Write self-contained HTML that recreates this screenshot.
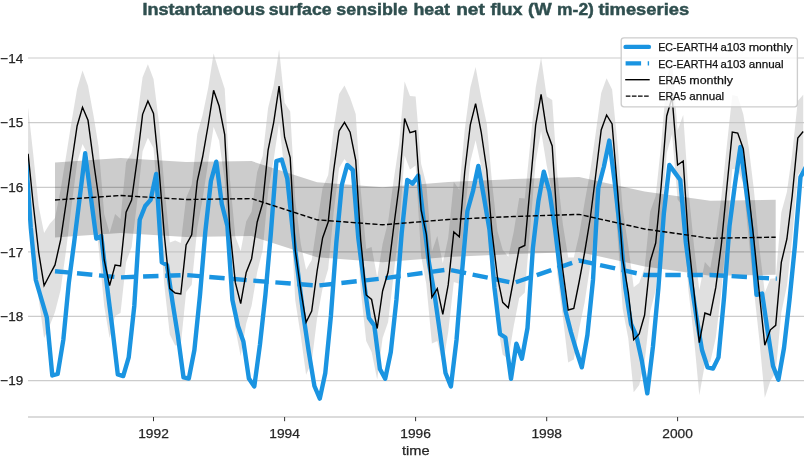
<!DOCTYPE html>
<html><head><meta charset="utf-8"><title>timeseries</title>
<style>
html,body{margin:0;padding:0;background:#fff;}
body{width:804px;height:457px;overflow:hidden;font-family:"Liberation Sans",sans-serif;}
svg{display:block;will-change:transform;}
text{font-family:"Liberation Sans",sans-serif;}
</style></head><body>
<svg width="804" height="457" viewBox="0 0 804 457">
<rect width="804" height="457" fill="#ffffff"/>
<defs><clipPath id="c"><rect x="28" y="40" width="776" height="377"/></clipPath></defs>
<g stroke="#cccccc" stroke-width="1.2"><line x1="28" x2="804" y1="58.0" y2="58.0"/><line x1="28" x2="804" y1="122.7" y2="122.7"/><line x1="28" x2="804" y1="187.4" y2="187.4"/><line x1="28" x2="804" y1="251.8" y2="251.8"/><line x1="28" x2="804" y1="316.3" y2="316.3"/><line x1="28" x2="804" y1="380.7" y2="380.7"/></g>
<g clip-path="url(#c)">
<polygon points="28.1,107.7 33.1,153.0 38.7,206.5 44.1,233.1 49.6,224.0 55.0,217.9 60.6,190.0 66.1,156.0 71.5,122.0 77.1,89.0 82.5,70.6 88.0,85.8 93.6,116.0 98.6,147.0 104.2,214.0 109.6,233.1 115.1,214.0 120.5,219.0 126.1,162.3 131.6,153.0 137.0,119.0 142.6,77.3 147.9,64.3 153.5,79.0 159.1,124.0 164.3,185.0 169.8,242.6 175.2,240.5 180.8,243.0 186.1,198.0 191.7,184.8 197.3,134.0 202.6,115.0 208.2,88.0 213.6,53.6 219.1,71.5 224.7,88.7 229.7,177.0 235.3,236.4 240.7,251.1 246.2,221.4 251.6,211.7 257.2,172.0 262.7,156.0 268.1,108.0 273.7,85.3 279.1,49.4 284.6,102.7 290.2,111.5 295.2,200.0 300.8,244.0 306.1,269.8 311.7,260.0 317.1,224.0 322.6,188.0 328.2,175.0 333.6,129.0 339.1,94.0 344.5,85.6 350.1,97.7 355.7,114.0 360.7,190.0 366.2,249.0 371.6,247.0 377.2,277.5 382.6,244.0 388.1,222.0 393.7,180.0 399.1,144.0 404.6,81.5 410.0,96.0 415.6,96.5 421.1,163.8 426.3,184.0 431.9,251.4 437.3,236.1 442.8,263.3 448.2,237.9 453.8,182.0 459.3,189.8 464.7,130.0 470.3,87.8 475.6,66.9 481.2,97.5 486.8,124.0 491.8,180.0 497.4,231.0 502.7,249.8 508.3,256.8 513.7,232.0 519.2,198.0 524.8,198.5 530.2,144.0 535.7,87.8 541.1,57.6 546.7,96.5 552.2,100.0 557.3,174.0 562.8,224.0 568.2,257.5 573.8,257.5 579.1,235.0 584.7,202.0 590.3,171.0 595.6,134.0 601.2,93.0 606.6,78.3 612.1,89.5 617.7,146.0 622.7,209.0 628.3,246.5 633.7,287.3 639.2,283.0 644.6,268.0 650.2,211.5 655.7,196.0 661.1,145.0 666.7,79.0 672.1,60.6 677.6,130.5 683.2,115.0 688.4,190.0 693.9,245.0 699.3,290.2 704.9,262.0 710.3,268.0 715.8,237.4 721.4,197.0 726.8,146.0 732.3,95.0 737.7,96.3 743.3,114.2 748.8,148.0 753.9,190.0 759.4,248.0 764.8,292.7 770.4,278.8 775.7,278.3 781.3,212.4 786.9,192.0 792.2,154.0 797.8,101.0 803.2,94.8 803.2,168.2 797.8,175.0 792.2,238.0 786.9,286.0 781.3,312.4 775.7,372.3 770.4,380.8 764.8,397.7 759.4,340.0 753.9,290.0 748.8,240.0 743.3,183.2 737.7,169.7 732.3,169.0 726.8,230.0 721.4,291.0 715.8,337.4 710.3,362.0 704.9,364.0 699.3,395.2 693.9,337.0 688.4,290.0 683.2,207.0 677.6,199.5 672.1,134.0 666.7,153.0 661.1,229.0 655.7,290.0 650.2,311.5 644.6,362.0 639.2,385.0 633.7,392.3 628.3,338.5 622.7,309.0 617.7,238.0 612.1,158.5 606.6,151.7 601.2,167.0 595.6,218.0 590.3,265.0 584.7,302.0 579.1,329.0 573.8,359.5 568.2,362.5 562.8,316.0 557.3,274.0 552.2,192.0 546.7,165.5 541.1,131.0 535.7,161.8 530.2,228.0 524.8,292.5 519.2,298.0 513.7,326.0 508.3,358.8 502.7,354.8 497.4,323.0 491.8,280.0 486.8,216.0 481.2,166.5 475.6,140.3 470.3,161.8 464.7,214.0 459.3,283.8 453.8,282.0 448.2,331.9 442.8,365.3 437.3,341.1 431.9,343.4 426.3,284.0 421.1,255.8 415.6,165.5 410.0,169.4 404.6,155.5 399.1,228.0 393.7,274.0 388.1,322.0 382.6,338.0 377.2,379.5 371.6,352.0 366.2,341.0 360.7,290.0 355.7,206.0 350.1,166.7 344.5,159.0 339.1,168.0 333.6,213.0 328.2,269.0 322.6,288.0 317.1,318.0 311.7,362.0 306.1,374.8 300.8,336.0 295.2,300.0 290.2,203.5 284.6,171.7 279.1,122.8 273.7,159.3 268.1,192.0 262.7,250.0 257.2,272.0 251.6,305.7 246.2,323.4 240.7,356.1 235.3,328.4 229.7,277.0 224.7,180.7 219.1,140.5 213.6,127.0 208.2,162.0 202.6,199.0 197.3,228.0 191.7,284.8 186.1,292.0 180.8,345.0 175.2,345.5 169.8,334.6 164.3,285.0 159.1,216.0 153.5,148.0 147.9,137.7 142.6,151.3 137.0,203.0 131.6,247.0 126.1,262.3 120.5,313.0 115.1,316.0 109.6,338.1 104.2,306.0 98.6,247.0 93.6,208.0 88.0,154.8 82.5,144.0 77.1,163.0 71.5,206.0 66.1,250.0 60.6,290.0 55.0,311.9 49.6,326.0 44.1,338.1 38.7,298.5 33.1,253.0 28.1,199.7" fill="#c1c1c1" fill-opacity="0.5"/>
<polygon points="55.0,162.5 120.5,158.0 186.1,162.0 251.6,161.1 317.1,182.3 382.6,187.3 448.2,182.0 513.7,179.0 579.1,176.9 644.6,191.5 710.3,200.8 775.7,199.7 775.7,274.7 710.3,275.8 644.6,266.5 579.1,251.9 513.7,254.0 448.2,257.0 382.6,262.3 317.1,257.3 251.6,236.1 186.1,237.0 120.5,233.0 55.0,237.5" fill="#000000" fill-opacity="0.2"/>
<polyline points="25.3,148.0 30.8,228.0 35.8,280.0 41.4,299.0 46.8,317.3 52.3,375.5 57.7,374.0 63.3,340.0 68.8,283.0 74.2,242.0 79.8,197.0 85.2,153.2 90.7,196.0 96.3,238.5 101.3,236.0 106.9,285.0 112.2,327.0 117.8,374.4 123.2,376.1 128.7,357.4 134.3,306.0 139.7,219.8 145.2,206.0 150.6,199.9 156.2,174.0 161.8,262.4 167.0,265.0 172.5,302.0 177.9,336.0 183.5,377.4 188.8,378.6 194.4,350.0 200.0,295.0 205.3,232.0 210.9,181.0 216.3,161.7 221.8,204.0 227.4,226.0 232.4,300.0 238.0,326.0 243.4,341.5 248.9,378.6 254.3,386.5 259.9,345.0 265.4,295.0 270.8,234.0 276.4,161.2 281.7,159.5 287.3,178.7 292.9,232.0 297.9,272.0 303.5,316.0 308.8,352.0 314.4,386.0 319.8,398.6 325.3,373.0 330.9,316.0 336.3,243.0 341.8,185.0 347.2,165.0 352.8,170.0 358.3,238.0 363.4,278.0 368.9,318.0 374.3,325.5 379.9,369.0 385.2,378.8 390.8,352.0 396.4,300.0 401.7,233.0 407.3,180.0 412.7,183.6 418.3,175.5 423.8,222.0 429.0,263.0 434.6,295.0 440.0,333.0 445.5,373.0 450.9,386.4 456.5,340.0 462.0,272.0 467.4,211.0 473.0,191.0 478.3,166.0 483.9,197.0 489.5,230.0 494.5,288.0 500.0,334.0 505.4,337.5 511.0,378.8 516.4,343.7 521.9,358.7 527.5,328.0 532.9,248.0 538.4,201.0 543.8,171.7 549.4,191.5 554.9,228.0 560.0,270.0 565.5,311.0 570.9,332.0 576.5,351.0 581.8,367.3 587.4,335.0 593.0,280.0 598.3,188.0 603.9,166.5 609.3,140.6 614.8,183.0 620.4,233.0 625.4,288.0 631.0,324.0 636.4,336.0 641.9,361.0 647.3,393.4 652.9,347.0 658.4,288.0 663.8,214.0 669.4,165.0 674.7,172.4 680.3,180.0 685.9,243.0 691.1,282.0 696.6,318.0 702.0,350.0 707.6,367.4 713.0,368.6 718.5,357.4 724.1,297.0 729.5,226.0 735.0,184.0 740.4,146.9 746.0,189.0 751.5,230.0 756.5,294.9 762.1,293.6 767.5,330.0 773.0,366.0 778.4,379.8 784.0,348.0 789.5,300.0 794.9,246.0 800.5,177.0 805.9,167.0" fill="none" stroke="#1a94e1" stroke-width="4.4" stroke-linejoin="round" stroke-linecap="butt"/>
<polyline points="55.0,271.2 120.5,277.4 186.1,275.0 251.6,280.5 317.1,285.6 382.6,278.5 448.2,269.5 513.7,283.0 579.1,260.5 644.6,275.0 710.3,275.0 775.7,278.6 776.8,278.6" fill="none" stroke="#1a94e1" stroke-width="4.4" stroke-dasharray="15.4,6.7"/>
<polyline points="28.1,153.7 33.1,203.0 38.7,252.5 44.1,285.6 49.6,275.0 55.0,264.9 60.6,240.0 66.1,203.0 71.5,164.0 77.1,126.0 82.5,107.3 88.0,120.3 93.6,162.0 98.6,197.0 104.2,260.0 109.6,285.6 115.1,265.0 120.5,266.0 126.1,212.3 131.6,200.0 137.0,161.0 142.6,114.3 147.9,101.0 153.5,113.5 159.1,170.0 164.3,235.0 169.8,288.6 175.2,293.0 180.8,294.0 186.1,245.0 191.7,234.8 197.3,181.0 202.6,157.0 208.2,125.0 213.6,90.3 219.1,106.0 224.7,134.7 229.7,227.0 235.3,282.4 240.7,303.6 246.2,272.4 251.6,258.7 257.2,222.0 262.7,203.0 268.1,150.0 273.7,122.3 279.1,86.1 284.6,137.2 290.2,157.5 295.2,250.0 300.8,290.0 306.1,322.3 311.7,311.0 317.1,271.0 322.6,238.0 328.2,222.0 333.6,171.0 339.1,131.0 344.5,122.3 350.1,132.2 355.7,160.0 360.7,240.0 366.2,295.0 371.6,299.5 377.2,328.5 382.6,291.0 388.1,272.0 393.7,227.0 399.1,186.0 404.6,118.5 410.0,132.7 415.6,131.0 421.1,209.8 426.3,234.0 431.9,297.4 437.3,288.6 442.8,314.3 448.2,284.9 453.8,232.0 459.3,236.8 464.7,172.0 470.3,124.8 475.6,103.6 481.2,132.0 486.8,170.0 491.8,230.0 497.4,277.0 502.7,302.3 508.3,307.8 513.7,279.0 519.2,248.0 524.8,245.5 530.2,186.0 535.7,124.8 541.1,94.3 546.7,131.0 552.2,146.0 557.3,224.0 562.8,270.0 568.2,310.0 573.8,308.5 579.1,282.0 584.7,252.0 590.3,218.0 595.6,176.0 601.2,130.0 606.6,115.0 612.1,124.0 617.7,192.0 622.7,259.0 628.3,292.5 633.7,339.8 639.2,334.0 644.6,315.0 650.2,261.5 655.7,243.0 661.1,187.0 666.7,116.0 672.1,97.3 677.6,165.0 683.2,161.0 688.4,240.0 693.9,291.0 699.3,342.7 704.9,313.0 710.3,315.0 715.8,287.4 721.4,244.0 726.8,188.0 732.3,132.0 737.7,133.0 743.3,148.7 748.8,194.0 753.9,240.0 759.4,294.0 764.8,345.2 770.4,329.8 775.7,325.3 781.3,262.4 786.9,239.0 792.2,196.0 797.8,138.0 803.2,131.5" fill="none" stroke="#000" stroke-width="1.4" stroke-linejoin="miter"/>
<polyline points="55.0,200.0 120.5,195.5 186.1,199.5 251.6,198.6 317.1,219.8 382.6,224.8 448.2,219.5 513.7,216.5 579.1,214.4 644.6,229.0 710.3,238.3 775.7,237.2" fill="none" stroke="#000" stroke-width="1.4" stroke-dasharray="5.1,2.2"/>
</g>
<line x1="28" x2="804" y1="417" y2="417" stroke="#cfcfcf" stroke-width="1.3"/>
<g stroke="#333" stroke-width="1"><line x1="153.5" x2="153.5" y1="417" y2="421.2"/><line x1="284.6" x2="284.6" y1="417" y2="421.2"/><line x1="415.6" x2="415.6" y1="417" y2="421.2"/><line x1="546.7" x2="546.7" y1="417" y2="421.2"/><line x1="677.6" x2="677.6" y1="417" y2="421.2"/></g>
<g font-size="13" fill="#262626" stroke="#262626" stroke-width="0.25"><text x="0.3" y="62.7" textLength="22.9" lengthAdjust="spacingAndGlyphs">−14</text><text x="0.3" y="127.4" textLength="22.9" lengthAdjust="spacingAndGlyphs">−15</text><text x="0.3" y="192.1" textLength="22.9" lengthAdjust="spacingAndGlyphs">−16</text><text x="0.3" y="256.5" textLength="22.9" lengthAdjust="spacingAndGlyphs">−17</text><text x="0.3" y="321.0" textLength="22.9" lengthAdjust="spacingAndGlyphs">−18</text><text x="0.3" y="385.4" textLength="22.9" lengthAdjust="spacingAndGlyphs">−19</text></g>
<g font-size="13" fill="#262626" stroke="#262626" stroke-width="0.25" text-anchor="middle"><text x="153.5" y="438" textLength="30.6" lengthAdjust="spacingAndGlyphs">1992</text><text x="284.6" y="438" textLength="30.6" lengthAdjust="spacingAndGlyphs">1994</text><text x="415.6" y="438" textLength="30.6" lengthAdjust="spacingAndGlyphs">1996</text><text x="546.7" y="438" textLength="30.6" lengthAdjust="spacingAndGlyphs">1998</text><text x="677.6" y="438" textLength="30.6" lengthAdjust="spacingAndGlyphs">2000</text><text x="415.8" y="455.4" textLength="27.6" lengthAdjust="spacingAndGlyphs">time</text></g>
<g font-size="16.7" font-weight="bold" fill="#2f4f4f" stroke="#2f4f4f" stroke-width="0.45"><text x="142.4" y="14.5" textLength="122.6" lengthAdjust="spacingAndGlyphs">Instantaneous</text><text x="268.7" y="14.5" textLength="62.9" lengthAdjust="spacingAndGlyphs">surface</text><text x="336.3" y="14.5" textLength="71.4" lengthAdjust="spacingAndGlyphs">sensible</text><text x="413.4" y="14.5" textLength="36.6" lengthAdjust="spacingAndGlyphs">heat</text><text x="456.2" y="14.5" textLength="28.6" lengthAdjust="spacingAndGlyphs">net</text><text x="490.6" y="14.5" textLength="32.0" lengthAdjust="spacingAndGlyphs">flux</text><text x="528.0" y="14.5" textLength="23.6" lengthAdjust="spacingAndGlyphs">(W</text><text x="557.1" y="14.5" textLength="36.8" lengthAdjust="spacingAndGlyphs">m-2)</text><text x="598.4" y="14.5" textLength="90.8" lengthAdjust="spacingAndGlyphs">timeseries</text></g>
<g>
<rect x="621.2" y="37.8" width="176.2" height="69" rx="2.8" ry="2.8" fill="#ffffff" fill-opacity="0.8" stroke="#cdcdcd" stroke-width="1.35"/>
<line x1="625.6" x2="648.9" y1="46.9" y2="46.9" stroke="#1a94e1" stroke-width="4.4" stroke-linecap="round"/>
<line x1="625.6" x2="650" y1="63.4" y2="63.4" stroke="#1a94e1" stroke-width="4.4" stroke-dasharray="15.5,6.6,1.4,10"/>
<line x1="625.2" x2="649.7" y1="79.7" y2="79.7" stroke="#000" stroke-width="1.4"/>
<line x1="625.8" x2="648.7" y1="96.1" y2="96.1" stroke="#000" stroke-width="1.4" stroke-dasharray="4.6,1.5"/>
<g font-size="11.4" fill="#111" stroke="#111" stroke-width="0.25"><text x="658.2" y="50.9" textLength="60.0" lengthAdjust="spacingAndGlyphs">EC-EARTH4</text><text x="720.4" y="50.9" textLength="25.3" lengthAdjust="spacingAndGlyphs">a103</text><text x="748.7" y="50.9" textLength="43.8" lengthAdjust="spacingAndGlyphs">monthly</text><text x="658.2" y="67.6" textLength="60.0" lengthAdjust="spacingAndGlyphs">EC-EARTH4</text><text x="720.4" y="67.6" textLength="25.3" lengthAdjust="spacingAndGlyphs">a103</text><text x="748.7" y="67.6" textLength="35.0" lengthAdjust="spacingAndGlyphs">annual</text><text x="658.4" y="83.6" textLength="27.7" lengthAdjust="spacingAndGlyphs">ERA5</text><text x="689.3" y="83.6" textLength="43.6" lengthAdjust="spacingAndGlyphs">monthly</text><text x="658.4" y="99.8" textLength="27.7" lengthAdjust="spacingAndGlyphs">ERA5</text><text x="689.3" y="99.8" textLength="34.9" lengthAdjust="spacingAndGlyphs">annual</text></g></g>
</svg>
</body></html>
